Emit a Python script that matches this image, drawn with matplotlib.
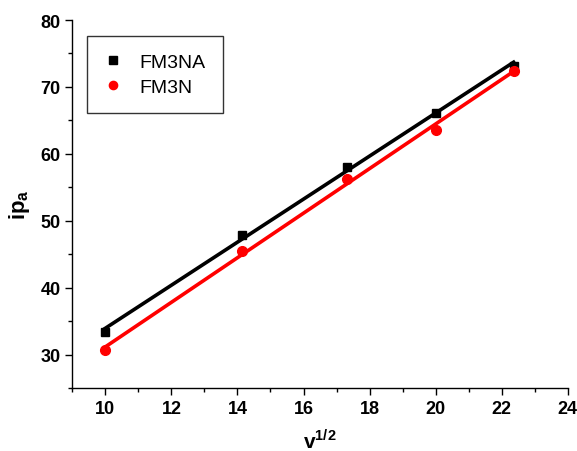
import numpy as np
import matplotlib
matplotlib.use("Agg")
import matplotlib.pyplot as plt
from matplotlib.ticker import MultipleLocator

plt.rcParams['font.family'] = ['Liberation Sans', 'DejaVu Sans']
plt.rcParams['font.weight'] = 'bold'
plt.rcParams['mathtext.fontset'] = 'custom'
plt.rcParams['mathtext.rm'] = 'Liberation Sans'
plt.rcParams['mathtext.bf'] = 'Liberation Sans:bold'

# data: sqrt of scan rate vs anodic peak current
x = np.sqrt([100, 200, 300, 400, 500])
ip_fm3na = [33.35, 47.8, 58.0, 66.1, 73.2]
ip_fm3n = [30.7, 45.45, 56.2, 63.6, 72.45]
xticks = [10, 12, 14, 16, 18, 20, 22, 24]
yticks = [30, 40, 50, 60, 70, 80]

fig = plt.figure(figsize=(5.77, 4.52), dpi=100)
ax = fig.add_axes([0.1253, 0.1394, 0.8587, 0.8141])

# linear fits
xf = np.array([x.min(), x.max()])
k1, b1 = np.polyfit(x, ip_fm3na, 1)
k2, b2 = np.polyfit(x, ip_fm3n, 1)
ax.plot(xf, k1 * xf + b1, color='black', lw=2.6, zorder=2)
ax.plot(xf, k2 * xf + b2, color='red', lw=2.6, zorder=2)

ax.plot(x, ip_fm3na, 's', color='black', ms=6, ls='none', label='FM3NA', zorder=3)
ax.plot(x, ip_fm3n, 'o', color='red', ms=7, ls='none', label='FM3N', zorder=3)

ax.set_xlim(9, 24)
ax.set_ylim(25, 80)
ax.set_xticks(xticks)
ax.set_yticks(yticks)
ax.xaxis.set_minor_locator(MultipleLocator(1))
ax.yaxis.set_minor_locator(MultipleLocator(5))

ax.spines['top'].set_visible(False)
ax.spines['right'].set_visible(False)
for s in ('left', 'bottom'):
    ax.spines[s].set_linewidth(1.0)
ax.tick_params(which='major', direction='out', length=5, width=1, labelsize=13)
ax.tick_params(which='minor', direction='out', length=3, width=1)

ax.set_xlabel(r'$\mathbf{v}^{\mathbf{1/2}}$', fontsize=15, labelpad=8)
ax.set_ylabel(r'$\mathbf{ip}_{\mathbf{a}}$', fontsize=16, labelpad=6)

leg = ax.legend(loc='upper left', bbox_to_anchor=(0.0297, 0.9565), borderaxespad=0,
                prop={'size': 14, 'weight': 'normal'}, frameon=True, fancybox=False,
                edgecolor='black', labelspacing=0.35, borderpad=0.9, handlelength=0.9,
                handletextpad=0.9, markerscale=0.85)
leg.get_frame().set_linewidth(1.0)

fig.savefig('out.png', dpi=100)
